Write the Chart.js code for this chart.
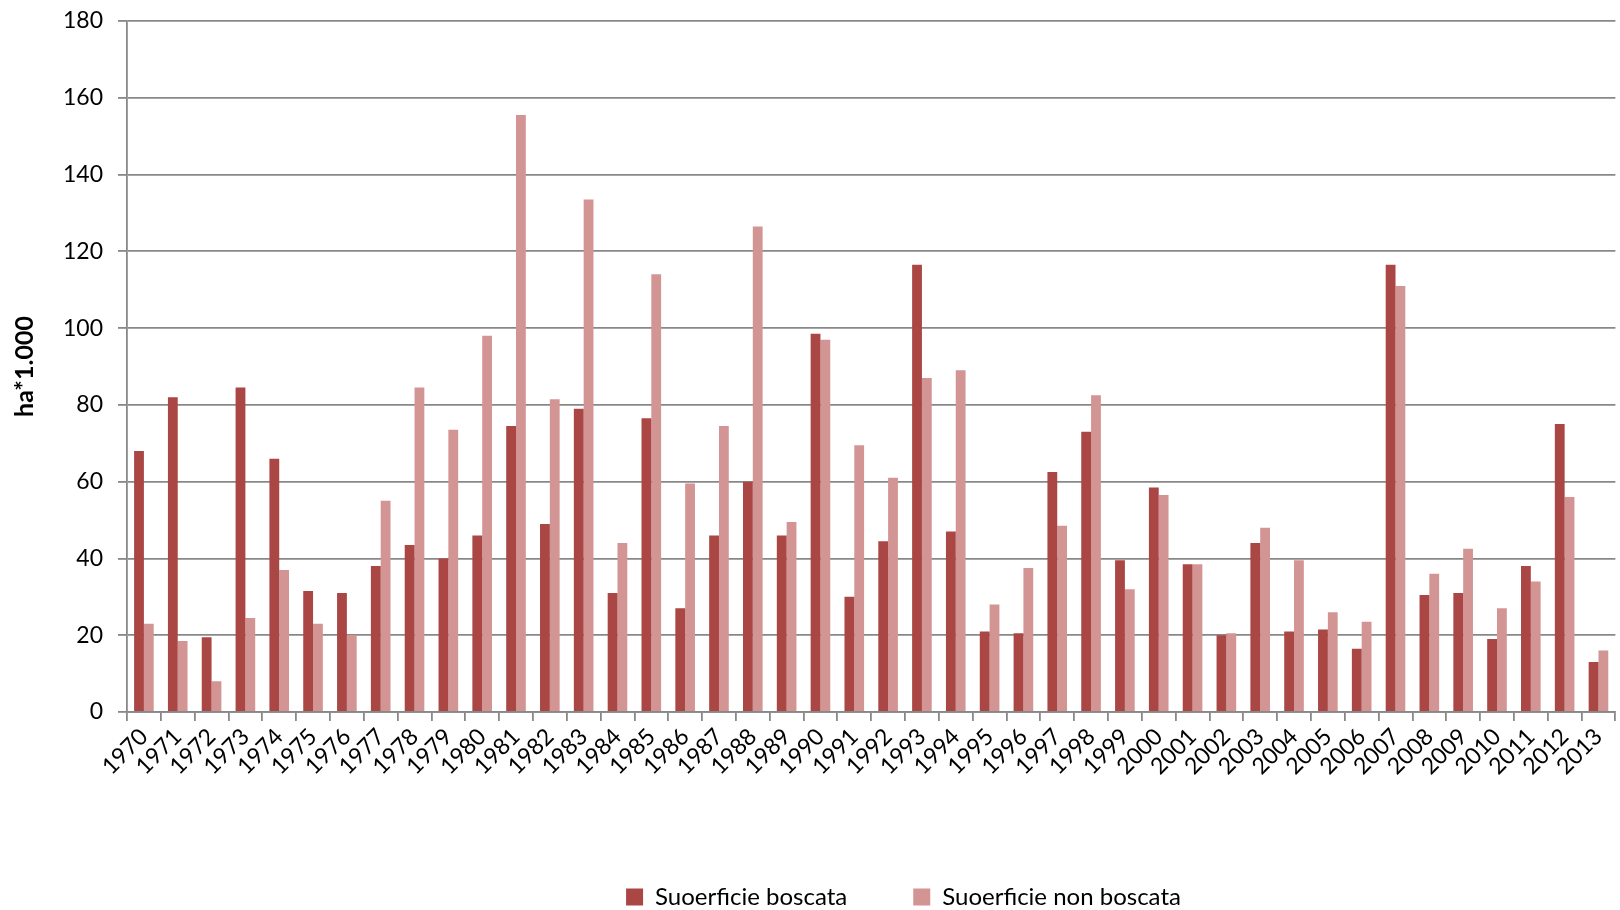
<!DOCTYPE html>
<html>
<head>
<meta charset="utf-8">
<script src="https://cdn.jsdelivr.net/npm/chart.js@4.4.1/dist/chart.umd.min.js"></script>
<style>
  html, body { margin: 0; padding: 0; background: #ffffff; }
  #wrap { width: 1620px; height: 910px; position: relative; }
</style>
</head>
<body>
<div id="wrap"><canvas id="c" width="1620" height="910"></canvas></div>
<script>
const years = ['1970','1971','1972','1973','1974','1975','1976','1977','1978','1979',
  '1980','1981','1982','1983','1984','1985','1986','1987','1988','1989',
  '1990','1991','1992','1993','1994','1995','1996','1997','1998','1999',
  '2000','2001','2002','2003','2004','2005','2006','2007','2008','2009',
  '2010','2011','2012','2013'];

const boscata = [68, 82, 19.5, 84.5, 66, 31.5, 31, 38, 43.5, 40,
  46, 74.5, 49, 79, 31, 76.5, 27, 46, 60, 46,
  98.5, 30, 44.5, 116.5, 47, 21, 20.5, 62.5, 73, 39.5,
  58.5, 38.5, 20, 44, 21, 21.5, 16.5, 116.5, 30.5, 31,
  19, 38, 75, 13];

const nonBoscata = [23, 18.5, 8, 24.5, 37, 23, 20, 55, 84.5, 73.5,
  98, 155.5, 81.5, 133.5, 44, 114, 59.5, 74.5, 126.5, 49.5,
  97, 69.5, 61, 87, 89, 28, 37.5, 48.5, 82.5, 32,
  56.5, 38.5, 20.5, 48, 39.5, 26, 23.5, 111, 36, 42.5,
  27, 34, 56, 16];

const seriesNames = ['Suoerficie boscata', 'Suoerficie non boscata'];
const yTicks = [0, 20, 40, 60, 80, 100, 120, 140, 160, 180];
const yTitle = 'ha*1.000';

Chart.defaults.font.family = 'Lato, "Open Sans", sans-serif';
Chart.defaults.color = '#000000';

const legendShift = {
  id: 'legendShift',
  afterLayout(chart) {
    const lg = chart.legend;
    if (!lg) return;
    const dx = 94, dy = 9;
    lg.left += dx; lg.right += dx;
    lg.top += dy; lg.bottom += dy;
  }
};

new Chart(document.getElementById('c'), {
  type: 'bar',
  data: {
    labels: years,
    datasets: [
      { label: seriesNames[0], data: boscata, backgroundColor: '#AA4643', borderWidth: 0 },
      { label: seriesNames[1], data: nonBoscata, backgroundColor: '#D39593', borderWidth: 0 }
    ]
  },
  options: {
    responsive: false,
    animation: false,
    devicePixelRatio: 1,
    layout: { padding: { top: 21, right: 1, bottom: 0, left: 0 } },
    datasets: { bar: { categoryPercentage: 0.58, barPercentage: 1.0 } },
    plugins: {
      tooltip: { enabled: false },
      legend: {
        position: 'bottom',
        labels: {
          font: { size: 24 },
          boxWidth: 17,
          boxHeight: 17,
          padding: 66,
          color: '#000000'
        }
      }
    },
    scales: {
      x: {
        afterFit(scale) { scale.height = 98; },
        grid: {
          drawOnChartArea: false,
          drawTicks: true,
          tickLength: 9,
          color: '#888888',
          lineWidth: 1.8,
          offset: true
        },
        border: { color: '#888888', width: 1.8 },
        ticks: {
          font: { size: 23 },
          maxRotation: 45,
          minRotation: 45,
          padding: 2,
          autoSkip: false,
          color: '#000000'
        }
      },
      y: {
        min: 0,
        max: 180,
        afterFit(scale) {
          scale.width = 127;
          scale.paddingTop = 0;
          scale.paddingBottom = 0;
        },
        afterBuildTicks(scale) { scale.ticks = yTicks.map(v => ({ value: v })); },
        grid: {
          color: '#888888',
          lineWidth: 1.8,
          drawTicks: true,
          tickLength: 9
        },
        border: { color: '#888888', width: 1.8 },
        ticks: {
          font: { size: 23 },
          padding: 15,
          color: '#000000'
        },
        title: {
          display: true,
          text: yTitle,
          font: { size: 25, weight: 'bold' },
          padding: { top: 10, bottom: 0 },
          color: '#000000'
        }
      }
    }
  },
  plugins: [legendShift]
});
</script>
</body>
</html>
